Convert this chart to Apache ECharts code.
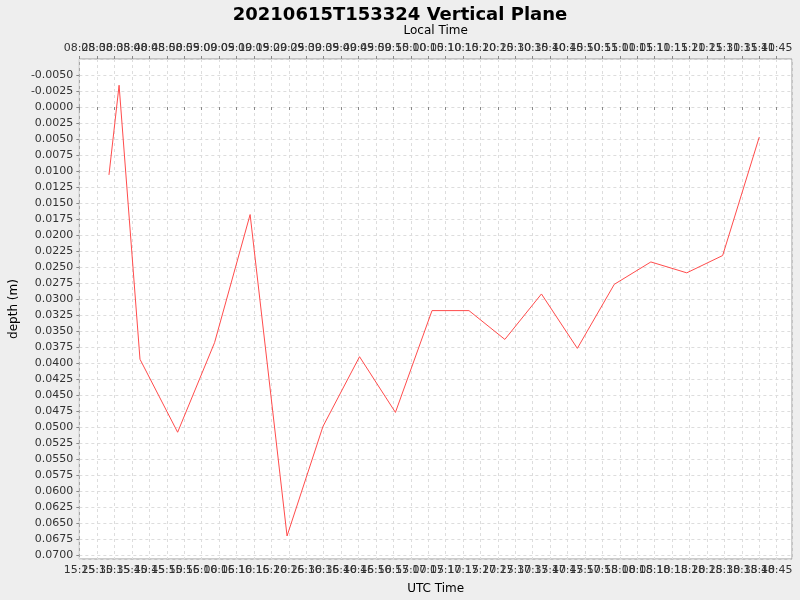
<!DOCTYPE html>
<html><head><meta charset="utf-8">
<script src="https://cdn.jsdelivr.net/npm/echarts@6/dist/echarts.min.js"></script>
<style>html,body{margin:0;padding:0;background:#eeeeee}#c{width:800px;height:600px}</style>
</head><body><div id="c"></div>
<script>
// UTC time of each sample, minutes since midnight (2021-06-15)
const timesMin = [933.4,936.3,942.3,953.1,963.7,973.9,984.5,994.8,1005.3,1015.6,1026.1,1036.7,1047.0,1057.5,1067.8,1078.4,1088.9,1099.2,1109.5,1120.0];
const depths = [0.0106,-0.0034,0.0394,0.0508,0.0368,0.0168,0.0670,0.0499,0.0390,0.0477,0.0318,0.0318,0.0363,0.0292,0.0377,0.0277,0.0242,0.0259,0.0232,0.0047];
const localOffsetMin = -420;

const day = Date.UTC(2021,5,15);
const ts = m => day + m*60000;
const xMin = ts(924.9), xMax = ts(1129.4);
const lab = {fontSize:11, color:'#333', fontFamily:'DejaVu Sans'};
const nameStyle = {fontSize:12, color:'#000', fontFamily:'DejaVu Sans'};
const chart = echarts.init(document.getElementById('c'));
chart.setOption({
  useUTC:true,
  backgroundColor:'#eeeeee',
  animation:false,
  title:{text:'20210615T153324 Vertical Plane', left:'center', top:1, textStyle:{fontSize:18, fontWeight:'bold', color:'#000', fontFamily:'DejaVu Sans'}},
  grid:{left:75, right:8, top:59, bottom:40, show:true, backgroundColor:'#fff', borderColor:'#999', borderWidth:1},
  xAxis:[{
    type:'time', min:xMin, max:xMax, splitNumber:20, minInterval:600000, maxInterval:600000, position:'bottom',
    name:'UTC Time', nameLocation:'middle', nameGap:24, nameTextStyle:nameStyle,
    axisLine:{show:false}, axisTick:{show:true, length:3, lineStyle:{color:'#888'}},
    axisLabel:Object.assign({showMinLabel:false, showMaxLabel:false, margin:6, formatter:'{HH}:{mm}'}, lab),
    splitLine:{show:true, lineStyle:{color:'#ddd', type:[3,3]}}
  },{
    type:'time', min:xMin+localOffsetMin*60000, max:xMax+localOffsetMin*60000, splitNumber:20, minInterval:600000, maxInterval:600000, position:'top',
    name:'Local Time', nameLocation:'middle', nameGap:22, nameTextStyle:nameStyle,
    axisLine:{show:false}, axisTick:{show:true, length:3, lineStyle:{color:'#888'}},
    axisLabel:Object.assign({showMinLabel:false, showMaxLabel:false, margin:5, formatter:'{HH}:{mm}'}, lab),
    splitLine:{show:false}
  }],
  yAxis:{
    type:'value', inverse:true, min:-0.0075, max:0.0706, interval:0.0025,
    name:'depth (m)', nameLocation:'middle', nameGap:57, nameTextStyle:nameStyle,
    axisLine:{show:false}, axisTick:{show:true, length:3, lineStyle:{color:'#888'}},
    axisLabel:Object.assign({showMinLabel:false, showMaxLabel:false, margin:6, formatter:v=>{const r=Math.round(v/0.0025); const s=(r*0.0025).toFixed(4); return s==='-0.0000'?'0.0000':s;}}, lab),
    splitLine:{show:true, lineStyle:{color:'#ddd', type:[3,3]}}
  },
  series:[{type:'line', xAxisIndex:0, data:timesMin.map((t,i)=>[ts(t),depths[i]]), showSymbol:false, lineStyle:{color:'#ff4c4c', width:1}}]
});
</script></body></html>
